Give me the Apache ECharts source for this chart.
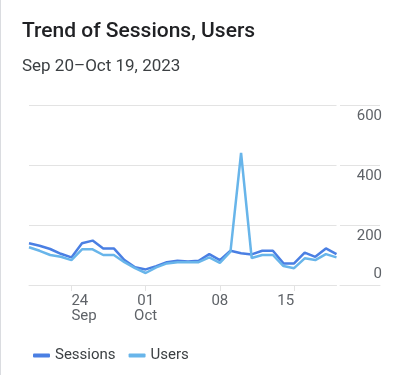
<!DOCTYPE html>
<html><head><meta charset="utf-8">
<script src="https://cdn.jsdelivr.net/npm/echarts@6/dist/echarts.min.js"></script>
<style>html,body{margin:0;padding:0;background:#fff}#c{width:400px;height:375px}</style>
</head><body><div id="c"></div>
<script>
const categories = ['Sep 20','Sep 21','Sep 22','Sep 23','Sep 24','Sep 25','Sep 26','Sep 27','Sep 28','Sep 29','Sep 30',
  'Oct 01','Oct 02','Oct 03','Oct 04','Oct 05','Oct 06','Oct 07','Oct 08','Oct 09','Oct 10','Oct 11','Oct 12','Oct 13',
  'Oct 14','Oct 15','Oct 16','Oct 17','Oct 18','Oct 19'];
const sessions = [139, 131, 120, 104, 92, 139, 148, 122, 122, 83, 59, 52, 63, 76, 81, 78, 81, 103, 83, 114,
  106, 102, 114, 114, 72, 72, 108, 94, 122, 103];
const users = [126, 114, 100, 94, 83, 119, 119, 100, 100, 76, 56, 40, 59, 72, 76, 76, 76, 92, 74, 111,
  440, 90, 100, 100, 63, 56, 89, 83, 103, 92];
const tickCategories = ['Sep 24', 'Oct 01', 'Oct 08', 'Oct 15'];
const tickLabels = ['24\nSep', '01\nOct', '08', '15'];
const yMax = 600, yInterval = 200;

const FONT = 'Roboto';
const GRID_C = '#e3e3e3';
const LBL_C = '#5f6368';
const tokenBase = {fontSize: 15, fontFamily: FONT, color: LBL_C, lineHeight: 15};

const chart = echarts.init(document.getElementById('c'), null, {renderer: 'canvas'});
const isTick = (idx) => tickCategories.indexOf(categories[idx]) >= 0;

chart.setOption({
  animation: false,
  backgroundColor: '#fff',
  textStyle: {fontFamily: FONT},
  title: [
    {text: 'Trend of Sessions, Users', left: 22, top: 21, padding: 0,
     textStyle: {fontSize: 21, fontWeight: 500, color: '#202124', fontFamily: FONT}},
    {text: 'Sep 20\u2013Oct 19, 2023', left: 22, top: 58, padding: 0,
     textStyle: {fontSize: 17, fontWeight: 400, color: '#3c4043', fontFamily: FONT}}
  ],
  graphic: [{type: 'rect', shape: {x: 0, y: 0, width: 1, height: 375}, style: {fill: '#dadce0'}, silent: true}],
  legend: {
    left: 28, top: 343, icon: 'roundRect', itemWidth: 17, itemHeight: 4, itemGap: 13,
    textStyle: {fontSize: 15, color: '#3c4043', fontFamily: FONT},
    data: ['Sessions', 'Users']
  },
  grid: [
    {left: 29, right: 63.5, top: 105, bottom: 90, outerBoundsMode: 'none', containLabel: false},
    {left: 340, right: 20, top: 105, bottom: 90, outerBoundsMode: 'none', containLabel: false}
  ],
  xAxis: [
    {type: 'category', gridIndex: 0, data: categories, boundaryGap: false,
     axisLine: {show: true, lineStyle: {color: GRID_C, width: 1}},
     axisTick: {show: true, length: 6, interval: (idx) => isTick(idx), lineStyle: {color: GRID_C}},
     axisLabel: {
       interval: (idx) => isTick(idx), margin: 9, lineHeight: 15, fontSize: 15, color: LBL_C,
       formatter: function (value) {
         const k = tickCategories.indexOf(value);
         if (k < 0) return '';
         const lines = tickLabels[k].split('\n');
         if (k === 0) return lines.map(s => '{spl| }{l|' + s + '}').join('\n');
         if (k === tickCategories.length - 1) return lines.map(s => '{r|' + s + '}{spr| }').join('\n');
         return lines.map(s => '{c|' + s + '}').join('\n');
       },
       rich: {
         spl: Object.assign({}, tokenBase, {width: 40, align: 'left'}),
         l: Object.assign({}, tokenBase, {width: 40, align: 'left'}),
         spr: Object.assign({}, tokenBase, {width: 40, align: 'right'}),
         r: Object.assign({}, tokenBase, {width: 40, align: 'right'}),
         c: Object.assign({}, tokenBase)
       }
     },
     splitLine: {show: false}},
    {type: 'value', gridIndex: 1, min: 0, max: 1,
     axisLine: {show: true, lineStyle: {color: GRID_C, width: 1}},
     axisTick: {show: false}, axisLabel: {show: false}, splitLine: {show: false}}
  ],
  yAxis: [
    {type: 'value', gridIndex: 0, min: 0, max: yMax, interval: yInterval,
     axisLine: {show: false}, axisTick: {show: false}, axisLabel: {show: false},
     splitLine: {show: true, lineStyle: {color: GRID_C, width: 1}}},
    {type: 'value', gridIndex: 1, position: 'right', min: 0, max: yMax, interval: yInterval,
     axisLine: {show: false}, axisTick: {show: false},
     axisLabel: {
       inside: true, margin: -2, fontSize: 15, color: LBL_C,
       formatter: (v) => v === 0 ? '{z|0}' : '{n|' + v + '}',
       rich: {
         n: Object.assign({}, tokenBase, {padding: [22, 0, 0, 0]}),
         z: Object.assign({}, tokenBase, {padding: [0, 0, 22, 0]})
       }
     },
     splitLine: {show: true, lineStyle: {color: GRID_C, width: 1}}}
  ],
  series: [
    {name: 'Sessions', type: 'line', xAxisIndex: 0, yAxisIndex: 0, data: sessions,
     showSymbol: false, symbol: 'none', color: '#4a7fe3', lineStyle: {width: 2.5, color: '#4a7fe3'}},
    {name: 'Users', type: 'line', xAxisIndex: 0, yAxisIndex: 0, data: users,
     showSymbol: false, symbol: 'none', color: '#68b5ea', lineStyle: {width: 2.5, color: '#68b5ea'}}
  ]
});
</script></body></html>
